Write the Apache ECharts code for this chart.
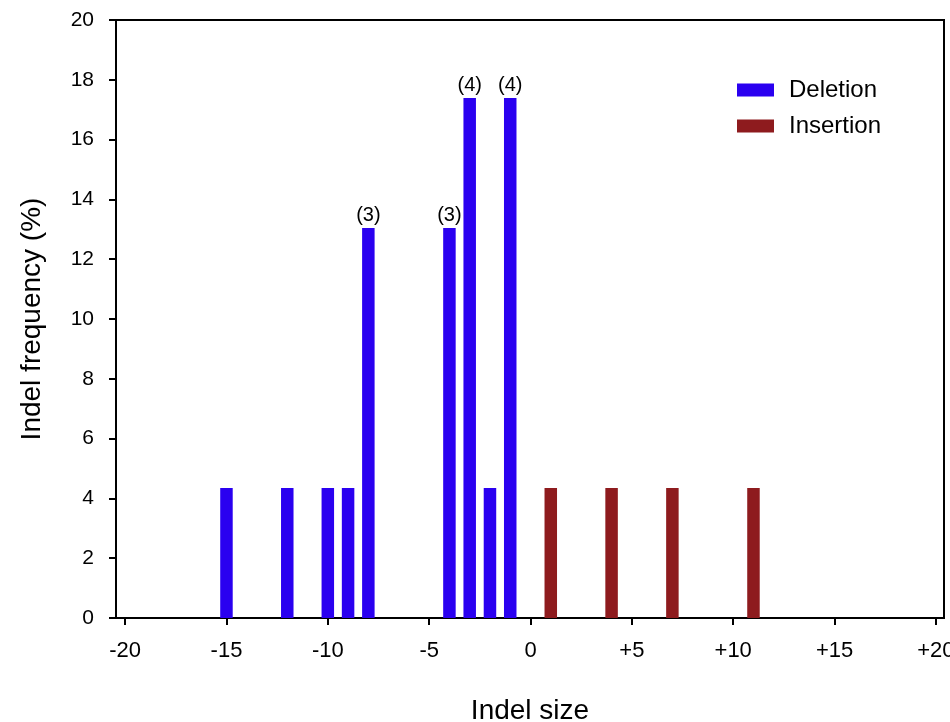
<!DOCTYPE html>
<html><head><meta charset="utf-8">
<script src="https://cdn.jsdelivr.net/npm/echarts@6/dist/echarts.min.js"></script>
<style>html,body{margin:0;padding:0;background:#fff}#c{width:950px;height:722px}</style>
</head><body><div id="c"></div>
<script>
const delSizes = [-15, -12, -10, -9, -8, -4, -3, -2, -1];
const delFreq = [4.35, 4.35, 4.35, 4.35, 13.04, 13.04, 17.39, 4.35, 17.39];
const delCounts = [1, 1, 1, 1, 3, 3, 4, 1, 4];
const insSizes = [1, 4, 7, 11];
const insFreq = [4.35, 4.35, 4.35, 4.35];
const xTicks = [-20, -15, -10, -5, 0, 5, 10, 15, 20];

const font = '"Liberation Sans", Arial, sans-serif';
const chart = echarts.init(document.getElementById('c'));
chart.setOption({
  animation: false,
  textStyle: { fontFamily: font, color: '#000' },
  grid: { left: 116, right: 6, top: 20, bottom: 104, show: true, borderColor: '#000', borderWidth: 2,
    backgroundColor: 'transparent', outerBoundsMode: 'none', containLabel: false },
  legend: {
    orient: 'vertical', left: 732, top: 73, itemWidth: 37, itemHeight: 13, itemGap: 12,
    icon: 'rect',
    textStyle: { fontSize: 24, fontFamily: font, color: '#000', lineHeight: 22, padding: [0, 0, 0, 10] },
    data: ['Deletion', 'Insertion']
  },
  xAxis: {
    type: 'value', min: -20.45, max: 20.4,
    name: 'Indel size', nameLocation: 'middle', nameGap: 79,
    nameTextStyle: { fontSize: 28, fontFamily: font, color: '#000' },
    axisLine: { show: true, onZero: false, lineStyle: { color: '#000', width: 2 } },
    axisTick: { show: true, inside: false, length: 7, lineStyle: { color: '#000', width: 2 }, customValues: xTicks },
    axisLabel: { fontSize: 22, color: '#000', margin: 22, fontFamily: font, customValues: xTicks,
      formatter: v => v > 0 ? '+' + v : String(v) },
    splitLine: { show: false }
  },
  yAxis: {
    type: 'value', min: 0, max: 20, interval: 2,
    name: 'Indel frequency (%)', nameLocation: 'middle', nameGap: 70,
    nameTextStyle: { fontSize: 28, fontFamily: font, color: '#000' },
    axisLine: { show: true, onZero: false, lineStyle: { color: '#000', width: 2 } },
    axisTick: { show: true, inside: false, length: 7, lineStyle: { color: '#000', width: 2 } },
    axisLabel: { fontSize: 21, color: '#000', margin: 22, fontFamily: font },
    splitLine: { show: false }
  },
  series: [
    {
      name: 'Deletion', type: 'bar', barWidth: 12.5, barGap: '-100%',
      itemStyle: { color: '#2a00f0' },
      data: delSizes.map((s, i) => ({
        value: [s, delFreq[i]],
        label: { show: delCounts[i] > 1, position: 'top', distance: 3, formatter: '(' + delCounts[i] + ')',
          fontSize: 20, color: '#000', fontFamily: font }
      }))
    },
    {
      name: 'Insertion', type: 'bar', barWidth: 12.5, barGap: '-100%',
      itemStyle: { color: '#8e1b1e' },
      data: insSizes.map((s, i) => [s, insFreq[i]])
    }
  ]
});
</script></body></html>
